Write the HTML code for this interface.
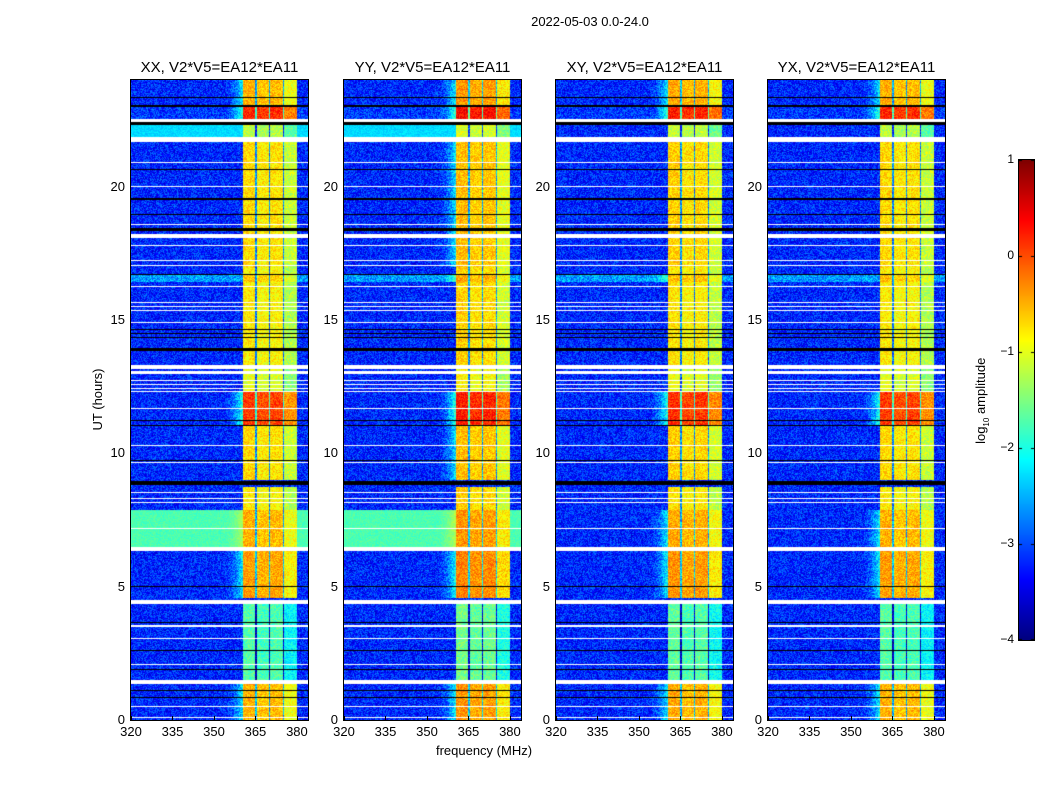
<!DOCTYPE html>
<html><head><meta charset="utf-8">
<style>
body{margin:0;background:#fff;font-family:"Liberation Sans","DejaVu Sans",sans-serif;}
#root{position:relative;width:1050px;height:800px;overflow:hidden;background:#fff;}
.t{position:absolute;color:#000;white-space:nowrap;}
canvas{position:absolute;}
.frame{position:absolute;border:1px solid #000;box-sizing:border-box;pointer-events:none;}
</style></head>
<body>
<div id="root">
<div class="t" style="left:490px;top:14px;width:200px;text-align:center;font-size:13px;">2022-05-03 0.0-24.0</div>
<div class="t" style="left:40px;top:392px;width:115px;text-align:center;font-size:13px;transform:rotate(-90deg);">UT (hours)</div>
<div class="t" style="left:404px;top:743px;width:160px;text-align:center;font-size:13px;">frequency (MHz)</div>
<canvas id="cb" width="15" height="480" style="left:1019px;top:160px;"></canvas>
<div class="frame" style="left:1018px;top:159px;width:17px;height:482px;"></div>
<div class="t" style="left:922px;top:392px;width:120px;text-align:center;font-size:13px;transform:rotate(-90deg);">log<sub style="font-size:8px">10</sub> amplitude</div>
</div>
<script>
// ---- data ----
const panelTitles = ["XX, V2*V5=EA12*EA11","YY, V2*V5=EA12*EA11","XY, V2*V5=EA12*EA11","YX, V2*V5=EA12*EA11"];
const panelLefts = [131,344,556,768];
const xTicks = [320,335,350,365,380];
const yTicks = [0,5,10,15,20];
const cbTicks = [1,0,-1,-2,-3,-4];
// time blocks: start hour, end hour
const blockStart = [23.36,23.0,22.5,22.3,21.86,17.0,16.42,13.2,12.3,11.06,9.0,7.87,6.49,4.57,1.5,0];
const blockEnd   = [24,23.36,23.0,22.5,22.3,21.67,16.72,17.0,13.2,12.3,11.06,8.74,7.87,6.37,4.35,1.35];
const blockBg    = [-3.2,-3.2,-3.1,-3.5,-2.3,-3.2,-2.6,-3.2,-3.2,-3.2,-3.2,-3.2,-1.75,-3.2,-3.2,-3.2];
const blockRfi   = [-0.6,-0.6,0.1,-0.9,-1.3,-0.8,-0.7,-0.9,-1.1,0.0,-0.8,-0.9,-0.6,-0.5,-1.8,-0.6];
const blockCyanOnlyXXYY = [0,0,0,0,1,0,0,0,0,0,0,0,1,0,0,0];
const panelRfiBoost = [0,0.15,0.05,0];
// RFI stripe channels (MHz)
const stripeLo = [360.5,365.5,370.3,375.3];
const stripeHi = [365.0,370.0,375.0,380.0];
const stripeOffset = [0.1,0,0.05,-0.35];
// flagged rows (hours)
const whiteHours = [22.5,21.76,20.92,20.02,18.6,18.14,17.81,17.25,17.06,16.27,15.67,15.49,15.37,14.89,13.22,13.03,12.75,12.6,12.45,12.3,11.7,10.31,9.67,8.55,8.32,8.17,7.2,6.4,4.43,3.56,3.49,3.04,2.1,1.42,0.49,0.11];
const whiteThick = [3,5,1,1,1,4,1,1,1,1,1,1,1,1,4,3,1,1,1,1,1,1,1,1,1,1,1,4,4,1,1,1,1,4,1,1];
const blackHours = [23.36,23.02,22.36,20.66,19.54,18.94,18.4,16.72,14.66,14.51,14.36,13.88,11.25,11.06,9.75,8.87,4.99,3.67,2.62,1.91,1.12,0.86];
const blackThick = [1,2,3,1,2,1,3,1,1,1,1,3,1,1,1,4,1,1,1,1,1,1];

// ---- scales ----
const W=177,H=640,FMIN=320,FMAX=384;
const xScale=f=>(f-FMIN)/(FMAX-FMIN)*W;
const yScale=h=>H-h/24*H;
const cbScale=v=>(1-v)/5*480;

function jet(v){
  const r=Math.min(Math.max(Math.min(4*v-1.5,-4*v+4.5),0),1);
  const g=Math.min(Math.max(Math.min(4*v-0.5,-4*v+3.5),0),1);
  const b=Math.min(Math.max(Math.min(4*v+0.5,-4*v+2.5),0),1);
  return [r*255|0,g*255|0,b*255|0];
}
function hash(a,b,c){let n=a*374761393+b*668265263+c*2147483647;n=(n^(n>>>13))*1274126177;n=n^(n>>>16);return ((n>>>0)%1000)/1000;}

const root=document.getElementById('root');
function addText(txt,l,t,w,align,size,name){
  const d=document.createElement('div');d.className='t';
  
  
  d.style.left=l+'px';d.style.top=t+'px';d.style.width=w+'px';d.style.textAlign=align;d.style.fontSize=size+'px';
  d.textContent=txt;root.appendChild(d);return d;
}

panelLefts.forEach((L,p)=>{
  const c=document.createElement('canvas');c.width=W;c.height=H;c.style.left=L+'px';c.style.top='80px';
  
  
  root.appendChild(c);
  const ctx=c.getContext('2d');const img=ctx.createImageData(W,H);
  for(let y=0;y<H;y++){
    const h=24-(y+0.5)/H*24;
    let bi=-1;
    for(let i=0;i<blockStart.length;i++){if(h>=blockStart[i]&&h<blockEnd[i]){bi=i;break;}}
    for(let x=0;x<W;x++){
      const f=FMIN+(x+0.5)/W*(FMAX-FMIN);
      let lv,o=(y*W+x)*4,nz=0.9;
      if(bi<0){lv=-3.2;}
      else{
        let bg=blockBg[bi];
        if(blockCyanOnlyXXYY[bi]&&p>1)bg=-3.2;
        const rfi=blockRfi[bi]+panelRfiBoost[p];
        let si=-1;for(let s=0;s<4;s++){if(f>=stripeLo[s]&&f<stripeHi[s]){si=s;break;}}
        if(si>=0){lv=rfi+stripeOffset[si];nz=0.6;}
        else if(f>=360.5&&f<380){lv=rfi-1.9;}
        else{
          lv=bg;
          if(bg>-2.6)nz=0.3;
          if(f>353&&f<360.5&&rfi>-0.7){const w=(f-353)/7.5;lv=bg+(rfi-bg)*0.4*w*w;}
        }
      }
      lv+=(hash(x,y,p)-0.5)*nz;
      const [r,g,b]=jet(Math.min(Math.max((lv+4)/5,0),1));
      img.data[o]=r;img.data[o+1]=g;img.data[o+2]=b;img.data[o+3]=255;
    }
  }
  ctx.putImageData(img,0,0);
  whiteHours.forEach((hh,i)=>{ctx.fillStyle='#fff';ctx.fillRect(0,Math.round(yScale(hh)-whiteThick[i]/2),W,whiteThick[i]);});
  blackHours.forEach((hh,i)=>{ctx.fillStyle='#000';ctx.fillRect(0,Math.round(yScale(hh)-blackThick[i]/2),W,blackThick[i]);});
  const fr=document.createElement('div');fr.className='frame';
  
  
  fr.style.left=(L-1)+'px';fr.style.top='79px';fr.style.width=(W+2)+'px';fr.style.height=(H+2)+'px';root.appendChild(fr);
  addText(panelTitles[p],L-20,59,W+40,'center',15,'panel-title');
  xTicks.forEach(t=>{
    addText(String(t),L+xScale(t)-20,724,40,'center',13,'x-tick-label');
    const tk=document.createElement('div');
    
    
    tk.style.cssText=`position:absolute;left:${L+xScale(t)}px;top:716px;width:1px;height:4px;background:#000`;root.appendChild(tk);
  });
  yTicks.forEach(t=>{addText(String(t),L-40,80+yScale(t)-8,34,'right',13,'y-tick-label');});
});
// colorbar
const cb=document.getElementById('cb').getContext('2d');
for(let y=0;y<480;y++){const [r,g,b]=jet(1-y/479);cb.fillStyle=`rgb(${r},${g},${b})`;cb.fillRect(0,y,15,1);}
cbTicks.forEach(t=>{
  addText(String(t).replace('-','\u2212'),976,160+cbScale(t)-8,38,'right',12,'colorbar-tick-label');
  cb.fillStyle='#000';const yy=Math.min(Math.max(Math.round(cbScale(t)),0),479);cb.fillRect(0,yy,3,1);cb.fillRect(12,yy,3,1);
});
</script>
</body></html>
